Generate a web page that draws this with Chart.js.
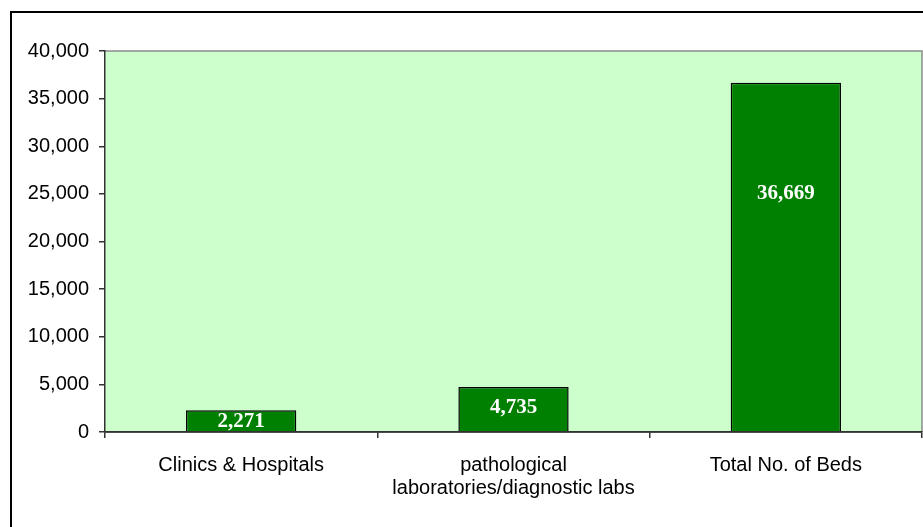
<!DOCTYPE html>
<html>
<head>
<meta charset="utf-8">
<script src="https://cdn.jsdelivr.net/npm/chart.js@4/dist/chart.umd.min.js"></script>
<style>
  html, body { margin: 0; padding: 0; background: #fff; }
  #wrap { width: 923px; height: 527px; position: relative; }
</style>
</head>
<body>
<div id="wrap"><canvas id="chart" width="923" height="527"></canvas></div>
<script>
// Facilities bar chart

const categories = [
    'Clinics & Hospitals',
    ['pathological', 'laboratories/diagnostic labs'],
    'Total No. of Beds'
];
const values = [2271, 4735, 36669];
// where each value label sits (in axis units)
const labelAt = [1050, 2520, 24990];
const yTicks = [0, 5000, 10000, 15000, 20000, 25000, 30000, 35000, 40000];

const fmt = v => v.toLocaleString('en-US');

// light green plot area with grey frame, plus the outer chart frame
const backdrop = {
    id: 'backdrop',
    beforeDraw(chart) {
        const { ctx, chartArea: a } = chart;
        ctx.save();
        ctx.fillStyle = '#CCFFCC';
        ctx.fillRect(a.left, a.top, a.right - a.left, a.bottom - a.top);
        ctx.strokeStyle = '#8C8C8C';
        ctx.lineWidth = 1.5;
        ctx.beginPath();
        ctx.moveTo(a.left, a.top);
        ctx.lineTo(a.right, a.top);
        ctx.lineTo(a.right, a.bottom);
        ctx.stroke();
        // outer frame (left and top visible)
        ctx.strokeStyle = '#000';
        ctx.lineWidth = 2;
        ctx.beginPath();
        ctx.moveTo(11, 527);
        ctx.lineTo(11, 12);
        ctx.lineTo(923, 12);
        ctx.stroke();
        ctx.restore();
    }
};

const valueLabels = {
    id: 'valueLabels',
    afterDatasetsDraw(chart) {
        const { ctx, chartArea: a } = chart;
        const meta = chart.getDatasetMeta(0);
        const y = chart.scales.y;
        ctx.save();
        ctx.fillStyle = '#fff';
        ctx.font = 'bold 21px "Liberation Serif", "Times New Roman", serif';
        ctx.textAlign = 'center';
        ctx.textBaseline = 'middle';
        meta.data.forEach((bar, i) => {
            ctx.fillText(fmt(values[i]), bar.x, y.getPixelForValue(labelAt[i]));
        });
        // x axis line on top of the labels
        ctx.strokeStyle = '#333';
        ctx.lineWidth = 1.5;
        ctx.beginPath();
        ctx.moveTo(a.left, a.bottom);
        ctx.lineTo(a.right, a.bottom);
        ctx.stroke();
        ctx.restore();
    }
};

const tickFont = { family: '"Liberation Sans", Arial, sans-serif', size: 20, lineHeight: 1.15 };

new Chart(document.getElementById('chart').getContext('2d'), {
    type: 'bar',
    data: {
        labels: categories,
        datasets: [{
            data: values,
            backgroundColor: '#008000',
            borderColor: '#000',
            borderWidth: 1.5,
            categoryPercentage: 1,
            barPercentage: 0.405
        }]
    },
    options: {
        responsive: false,
        animation: false,
        layout: { padding: { top: 51, right: 1, left: 0, bottom: 0 } },
        plugins: {
            legend: { display: false },
            tooltip: { enabled: false }
        },
        scales: {
            x: {
                grid: {
                    display: true,
                    drawOnChartArea: false,
                    drawTicks: true,
                    tickLength: 6,
                    color: '#333',
                    lineWidth: 1.5
                },
                border: { display: true, color: '#333', width: 1.5 },
                ticks: {
                    color: '#000',
                    font: tickFont,
                    padding: 16,
                    maxRotation: 0,
                    autoSkip: false
                },
                afterFit(scale) { scale.height = 95; }
            },
            y: {
                min: 0,
                max: 40000,
                afterBuildTicks(scale) { scale.ticks = yTicks.map(v => ({ value: v })); },
                grid: {
                    drawOnChartArea: false,
                    drawTicks: true,
                    tickLength: 6,
                    color: '#333',
                    lineWidth: 1.5
                },
                border: { display: true, color: '#333', width: 1.5 },
                ticks: {
                    color: '#000',
                    font: tickFont,
                    padding: 10,
                    callback: v => fmt(v)
                },
                afterFit(scale) { scale.width = 105; }
            }
        }
    },
    plugins: [backdrop, valueLabels]
});
</script>
</body>
</html>
